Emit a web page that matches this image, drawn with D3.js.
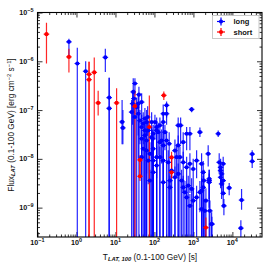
<!DOCTYPE html>
<html><head><meta charset="utf-8">
<script src="https://cdn.jsdelivr.net/npm/d3@7"></script>
<style>body{margin:0;background:#fff}svg{display:block}text{font-family:"Liberation Sans",Arial,sans-serif}</style>
</head><body><svg id="c" width="269" height="267"></svg>
<script>
// x major tick values (s) and y major tick values (erg cm^-2 s^-1)
const xTickValues = [0.1, 1, 10, 100, 1000, 10000];
const yTickValues = [1e-9, 1e-8, 1e-7, 1e-6, 1e-5];
const xDomain = [0.1, 57500];
const yDomain = [2.5e-10, 1e-5];
const legendLabels = ["long", "short"];

// [T_LAT,100 (s), flux, flux lower, flux upper]
const longGRBs = [
  [0.64, 2.5e-6, 1.3e-6, 2.9e-6], [1.05, 9e-7, 1e-10, 1.9e-6], [1.72, 6.25e-7, 1e-10, 1.0e-6],
  [5.5, 1.2e-6, 6e-7, 1.8e-6], [6.9, 1.8e-7, 1e-10, 4.6e-7], [6.9, 1.08e-7, 1e-10, 4.6e-7],
  [14.8, 5.7e-8, 2e-8, 1.6e-7], [15.5, 4.3e-8, 2e-8, 1.0e-7],
  [28.6, 2.35e-7, 1e-10, 4.5e-7], [29.8, 1.72e-7, 1e-10, 2.6e-7], [31.6, 3.5e-7, 2e-7, 4.5e-7],
  [40, 2.07e-7, 1e-10, 3.0e-7], [38.5, 1.35e-7, 1e-8, 2.0e-7], [27.6, 1.35e-7, 5e-8, 2.3e-7],
  [26, 9.1e-8, 1e-10, 1.6e-7], [31.6, 7.2e-8, 1e-10, 1.2e-7], [38.5, 8.4e-8, 3e-8, 1.3e-7],
  [42.5, 6.1e-8, 2e-8, 1.0e-7], [47, 4.47e-8, 1e-10, 8e-8], [51.6, 5.25e-8, 2e-8, 9e-8],
  [63, 5.66e-8, 1e-10, 1.0e-7], [69.3, 3.82e-8, 1.5e-8, 6e-8], [57, 3.02e-8, 1e-10, 5e-8],
  [47, 2.58e-8, 1e-8, 4e-8], [63, 2.38e-8, 1e-10, 4e-8], [84.7, 2.78e-8, 1e-8, 4.5e-8],
  [93, 3.27e-8, 1e-10, 5e-8], [103, 5.66e-8, 2.5e-8, 8e-8], [114, 4.47e-8, 1e-10, 7e-8],
  [125, 3.52e-8, 1.2e-8, 5.5e-8], [168, 5.66e-8, 1e-10, 9e-8], [186, 3.52e-8, 1.5e-8, 5e-8],
  [138, 2.2e-8, 1e-10, 3.5e-8], [168, 1.88e-8, 6e-9, 3e-8], [93, 1.61e-8, 1e-10, 2.5e-8],
  [51.6, 1.61e-8, 1e-10, 2.8e-8], [63, 1.48e-8, 5e-9, 2.5e-8], [76.7, 1.27e-8, 1e-10, 2.2e-8],
  [114, 1.08e-8, 4e-9, 1.8e-8], [47, 1.08e-8, 1e-10, 2e-8], [69.3, 9.2e-9, 3e-9, 1.5e-8],
  [93, 9.2e-9, 1e-10, 1.6e-8], [168, 8.4e-8, 3e-8, 1.3e-7], [205, 1.25e-7, 7e-8, 1.5e-7],
  [205, 8.4e-8, 5e-8, 1.25e-7], [239, 2.04e-8, 1e-10, 3.5e-8], [371, 1.08e-8, 4e-9, 2e-8],
  [226, 8.5e-9, 1e-10, 1.5e-8], [407, 4.84e-8, 2e-8, 7e-8], [35, 1.15e-7, 1e-10, 1.8e-7],
  [47, 1.46e-7, 5e-8, 2.2e-7], [57, 6.65e-8, 1e-10, 1.1e-7], [67, 7.2e-8, 3e-8, 1.2e-7],
  [57, 3.82e-8, 1e-10, 6e-8],
  [84.7, 5.66e-8, 1e-10, 9e-8], [138, 4.84e-8, 2e-8, 7e-8], [114, 3.82e-8, 1e-10, 6e-8],
  [90, 2.58e-8, 1e-10, 4e-8], [153, 2.38e-8, 8e-9, 4e-8], [205, 2.38e-8, 1e-10, 3.5e-8],
  [470, 4.84e-8, 2e-8, 7e-8], [670, 3.27e-8, 1.5e-8, 4.5e-8], [813, 3.27e-8, 1.5e-8, 4.5e-8],
  [547, 2.2e-8, 8e-9, 3.5e-8], [407, 1.88e-8, 1e-10, 3e-8], [336, 1.48e-8, 1e-10, 2.5e-8],
  [451, 1.08e-8, 1e-10, 1.8e-8], [547, 8.5e-9, 2e-9, 1.4e-8], [670, 6.7e-9, 1e-10, 1.1e-8],
  [813, 7.9e-9, 2e-9, 1.3e-8], [988, 6.2e-9, 1e-10, 1e-8], [1208, 9.2e-9, 4e-9, 1.5e-8],
  [1468, 3.52e-8, 2.8e-8, 4.4e-8], [2393, 1.27e-8, 7e-9, 1.9e-8], [2540, 3.58e-9, 1e-10, 6e-9],
  [1783, 2.6e-9, 1e-10, 4.5e-9], [1468, 2.06e-9, 8e-10, 3.5e-9], [1208, 1.62e-9, 1e-10, 2.8e-9],
  [900, 2.42e-9, 1e-10, 4e-9], [736, 2.82e-9, 1e-10, 4.5e-9], [988, 1.39e-9, 1e-10, 2.5e-9],
  [1622, 9.35e-10, 1e-10, 1.6e-9], [1972, 8.6e-10, 1e-10, 1.5e-9], [2649, 8.6e-10, 1e-10, 1.4e-9],
  [2931, 4.6e-10, 1e-10, 8e-10], [276, 5.74e-9, 1e-10, 1e-8], [250, 3.58e-9, 1e-10, 6e-9],
  [168, 3.3e-9, 1e-10, 6e-9], [250, 2.6e-9, 1e-10, 4.5e-9], [336, 4.2e-9, 1e-10, 7e-9],
  [407, 4.9e-9, 1e-10, 8e-9], [498, 3.58e-9, 1e-10, 6e-9], [547, 2.6e-9, 1e-10, 4.5e-9],
  [605, 2.06e-9, 1e-10, 3.5e-9], [670, 1.62e-9, 1e-10, 2.8e-9], [813, 1.09e-9, 1e-10, 1.9e-9],
  [76.7, 3.58e-9, 1e-10, 6e-9], [93, 5.3e-9, 1e-10, 9e-9], [114, 7.3e-9, 1e-10, 1.2e-8],
  [138, 1.08e-8, 1e-10, 1.8e-8], [168, 9.2e-9, 1e-10, 1.5e-8],
  [4325, 3.27e-8, 2.8e-8, 3.8e-8], [1622, 7.9e-9, 1e-10, 1.3e-8], [1783, 5.3e-9, 1e-10, 9e-9],
  [1859, 3.58e-9, 1e-10, 6e-9], [1622, 2.23e-9, 1e-10, 4e-9], [2093, 1.39e-9, 1e-10, 2.5e-9],
  [2540, 3.87e-9, 1.5e-9, 6e-9], [2540, 3.3e-9, 1e-9, 5e-9], [4590, 8.5e-9, 5e-9, 1.3e-8],
  [4980, 6.7e-9, 4e-9, 1e-8], [4980, 5.74e-9, 3e-9, 8e-9], [5284, 4.9e-9, 3e-9, 7e-9],
  [5807, 7.9e-9, 5e-9, 1.1e-8], [4980, 4.2e-9, 2.5e-9, 6e-9], [5807, 3.58e-9, 2e-9, 5e-9],
  [5284, 3.06e-9, 1.5e-9, 4.5e-9], [5807, 1.96e-9, 1e-9, 3e-9], [6056, 1.09e-9, 7e-10, 1.5e-9],
  [8279, 2.53e-9, 1.8e-9, 3.2e-9], [2980, 4.6e-10, 1e-10, 6.5e-10], [17200, 1.43e-9, 9e-10, 2.4e-9],
  [16500, 3.8e-10, 2.5e-10, 5.5e-10], [32200, 1.25e-8, 9e-9, 1.5e-8], [32200, 8.9e-9, 6.5e-9, 1.25e-8],
  [900, 1.03e-7, 9e-8, 1.15e-7]
];

const shortGRBs = [
  [0.17, 3.6e-6, 9e-7, 6.2e-6], [0.64, 1.23e-6, 5.9e-7, 1.8e-6],
  [2.1, 5.4e-7, 1e-10, 9.8e-7], [2.1, 4.2e-7, 1e-10, 9.8e-7], [2.86, 5.9e-7, 1e-10, 1.2e-6],
  [3.6, 1.4e-7, 7.7e-8, 2.5e-7], [10.7, 1.4e-7, 1e-10, 2.8e-7], [31.6, 1.2e-7, 1e-10, 2.5e-7],
  [42.6, 9.5e-9, 4.4e-9, 1.2e-8], [42.6, 4.4e-9, 3.5e-9, 9.5e-9], [74, 4.5e-8, 1e-10, 2e-7],
  [174, 2.0e-7, 1.6e-7, 2.4e-7], [275, 1.07e-8, 4e-9, 1.4e-8], [275, 5.3e-9, 4e-9, 1.07e-8],
  [2090, 3.9e-10, 1e-10, 6.3e-10]
];

const m = {l: 37.5, r: 262, t: 12.5, b: 237};
const svg = d3.select("#c");
svg.append("rect").attr("width", 269).attr("height", 267).attr("fill", "#fff");

const x = d3.scaleLog().domain(xDomain).range([m.l, m.r]);
const y = d3.scaleLog().domain(yDomain).range([m.b, m.t]);

function minors(dom) {
  const out = [];
  const lo = Math.floor(Math.log10(dom[0])), hi = Math.ceil(Math.log10(dom[1]));
  for (let e = lo; e <= hi; e++) for (let k = 2; k <= 9; k++) {
    const v = k * Math.pow(10, e);
    if (v >= dom[0] && v <= dom[1]) out.push(v);
  }
  return out;
}
const xMin = minors(xDomain), yMin = minors(yDomain);

function drawAxis(gen, tx, ty, vals, size) {
  const g = svg.append("g").attr("transform", `translate(${tx},${ty})`)
    .call(gen.tickValues(vals).tickSize(-size).tickFormat(() => ""));
  g.select(".domain").remove();
  g.selectAll("line").attr("stroke", "#000").attr("stroke-width", 0.8);
}
drawAxis(d3.axisBottom(x), 0, m.b, xTickValues, 5);
drawAxis(d3.axisBottom(x), 0, m.b, xMin, 2.5);
drawAxis(d3.axisTop(x), 0, m.t, xTickValues, 5);
drawAxis(d3.axisTop(x), 0, m.t, xMin, 2.5);
drawAxis(d3.axisLeft(y), m.l, 0, yTickValues, 5);
drawAxis(d3.axisLeft(y), m.l, 0, yMin, 2.5);
drawAxis(d3.axisRight(y), m.r, 0, yTickValues, 5);
drawAxis(d3.axisRight(y), m.r, 0, yMin, 2.5);

// tick labels
function powLabel(sel, v) {
  const e = Math.round(Math.log10(v));
  sel.append("tspan").text("10");
  sel.append("tspan").attr("dy", -3).attr("font-size", 5.5).text(e < 0 ? "\u2212" + (-e) : String(e));
}
xTickValues.forEach(v => {
  const t = svg.append("text").attr("x", x(v)).attr("y", 244.5).attr("text-anchor", "middle")
    .attr("font-size", 7.2).attr("font-weight", "bold").attr("fill", "#111");
  powLabel(t, v);
});
yTickValues.forEach(v => {
  const t = svg.append("text").attr("x", 33.5).attr("y", y(v) + 2.5).attr("text-anchor", "end")
    .attr("font-size", 7.2).attr("font-weight", "bold").attr("fill", "#111");
  powLabel(t, v);
});

// axis titles
const xt = svg.append("text").attr("x", 150).attr("y", 259.5).attr("text-anchor", "middle")
  .attr("font-size", 8.3).attr("fill", "#111");
xt.append("tspan").text("T");
xt.append("tspan").attr("dy", 1.5).attr("font-size", 5.8).attr("font-weight", "bold").attr("font-style", "italic").text("LAT, 100");
xt.append("tspan").attr("dy", -1.5).text(" (0.1-100 GeV) [s]");

const yt = svg.append("text").attr("transform", "translate(13.5,125) rotate(-90)").attr("text-anchor", "middle")
  .attr("font-size", 8.3).attr("fill", "#111");
yt.append("tspan").text("Flux");
yt.append("tspan").attr("dy", 1.5).attr("font-size", 5.8).attr("font-weight", "bold").attr("font-style", "italic").text("LAT");
yt.append("tspan").attr("dy", -1.5).text(" (0.1-100 GeV) [erg cm");
yt.append("tspan").attr("dy", -3).attr("font-size", 5.8).text("\u22122");
yt.append("tspan").attr("dy", 3).text(" s");
yt.append("tspan").attr("dy", -3).attr("font-size", 5.8).text("\u22121");
yt.append("tspan").attr("dy", 3).text("]");

// data
svg.append("clipPath").attr("id", "clip").append("rect")
  .attr("x", m.l).attr("y", m.t).attr("width", m.r - m.l).attr("height", m.b - m.t);
const plot = svg.append("g").attr("clip-path", "url(#clip)");

function bars(data, color) {
  const g = plot.append("g").attr("stroke", color).attr("stroke-width", 1.2).attr("stroke-opacity", 0.85);
  g.selectAll("line.v").data(data).join("line").attr("class", "v")
    .attr("x1", d => x(d[0])).attr("x2", d => x(d[0]))
    .attr("y1", d => y(Math.max(d[2], 1e-11))).attr("y2", d => y(d[3]));
  g.selectAll("line.h").data(data).join("line").attr("class", "h")
    .attr("x1", d => x(d[0]) - 2.8).attr("x2", d => x(d[0]) + 2.8)
    .attr("y1", d => y(d[1])).attr("y2", d => y(d[1]));
}
function dots(data, color) {
  plot.append("g").selectAll("circle").data(data).join("circle")
    .attr("cx", d => x(d[0])).attr("cy", d => y(d[1])).attr("r", 2.1).attr("fill", color);
}
bars(longGRBs, "#0000ff");
bars(shortGRBs, "#ff0000");
dots(longGRBs, "#0000ff");
dots(shortGRBs, "#ff0000");

// frame
svg.append("rect").attr("x", m.l).attr("y", m.t).attr("width", m.r - m.l).attr("height", m.b - m.t)
  .attr("fill", "none").attr("stroke", "#000").attr("stroke-width", 1.1);

// legend
const lg = svg.append("g");
lg.append("rect").attr("x", 212.5).attr("y", 15.5).attr("width", 46.5).attr("height", 23)
  .attr("fill", "#fff").attr("stroke", "#bbb").attr("stroke-width", 0.8);
const lc = ["#0000ff", "#ff0000"];
legendLabels.forEach((lab, i) => {
  const cy = 21.5 + i * 10.5, cx = 221;
  lg.append("line").attr("x1", cx - 4).attr("x2", cx + 4).attr("y1", cy).attr("y2", cy).attr("stroke", lc[i]).attr("stroke-width", 1.2);
  lg.append("line").attr("x1", cx).attr("x2", cx).attr("y1", cy - 4).attr("y2", cy + 4).attr("stroke", lc[i]).attr("stroke-width", 1.2);
  lg.append("circle").attr("cx", cx).attr("cy", cy).attr("r", 2.1).attr("fill", lc[i]);
  lg.append("text").attr("x", 233.5).attr("y", cy + 2.6).attr("font-size", 7.5).attr("font-weight", "bold")
    .attr("fill", "#111").text(lab);
});
</script></body></html>
